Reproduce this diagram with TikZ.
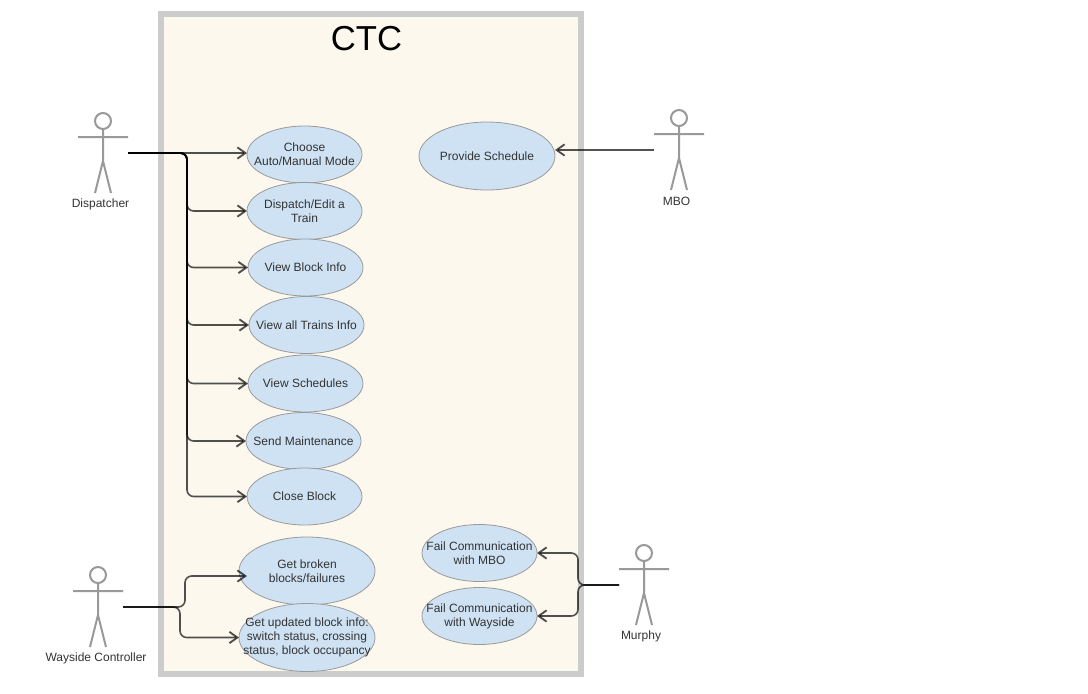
\documentclass[tikz,border=0pt]{standalone}
\usepackage{fontspec}
\setmainfont{Liberation Sans}
\usetikzlibrary{shapes.geometric,arrows.meta}
\definecolor{ctcfill}{HTML}{FCF8EE}
\definecolor{ctcedge}{HTML}{CCCCCC}
\definecolor{casefill}{HTML}{CFE2F3}
\definecolor{caseedge}{HTML}{999999}
\definecolor{txtcol}{HTML}{333333}
\tikzset{
  usecase/.style={draw=caseedge,fill=casefill,ellipse,line width=0.6pt,inner xsep=-13pt,inner ysep=-2pt,outer sep=0pt,
    minimum width=86.25pt,minimum height=42.75pt,align=center,text=txtcol,font=\fontsize{9}{10.5}\selectfont},
  bigcase/.style={usecase,minimum width=102pt,minimum height=51pt},
  actorname/.style={text=txtcol,inner sep=0pt,font=\fontsize{9}{10.5}\selectfont},
  link/.style={draw=black,draw opacity=0.68,line width=1.2pt,rounded corners=5pt,-{Straight Barb[length=6pt,width=8.5pt,line width=1.4pt]}},
  actor/.pic={
    \draw[draw=caseedge,line width=1.5pt] (0,-16) circle (8);
    \draw[draw=caseedge,line width=1.5pt] (0,-8) -- (0,24) (-25,0) -- (25,0) (-8,56) -- (0,24) -- (8,56);
  }
}
\begin{document}
\begin{tikzpicture}[x=0.75pt,y=-0.75pt]
        \useasboundingbox (0,0) rectangle (1088,693);

        % System box
        \fill[ctcfill] (161,14) rectangle (581,674);
        \draw[ctcedge,line width=4.5pt] (161,14) rectangle (581,674);
        \node[inner sep=0pt,font=\fontsize{26}{28}\selectfont] (title) at (366.5,39) {CTC};

        % Actors
        \pic at (103,137) {actor};
        \pic at (679,134) {actor};
        \pic at (98,591) {actor};
        \pic at (644,569) {actor};

        \node[actorname] (dispatcher) at (100.5,204) {Dispatcher};
        \node[actorname] (mbo) at (676.5,201) {MBO};
        \node[actorname] (wayside) at (96,658.5) {Wayside Controller};
        \node[actorname] (murphy) at (641,636.5) {Murphy};

        % Where the connectors leave the actors
        \coordinate (dispatcherout) at (128,153);
        \coordinate (mboout) at (654,150);
        \coordinate (waysideout) at (123,607);
        \coordinate (murphyout) at (619,585);

        % Use cases
        \node[usecase] (choose) at (304.5,154.5) {Choose\\Auto/Manual Mode};
        \node[usecase] (dispatch) at (304.5,211) {Dispatch/Edit a\\Train};
        \node[usecase] (viewblock) at (305.5,267.5) {View Block Info};
        \node[usecase] (viewtrains) at (306.5,325) {View all Trains Info};
        \node[usecase] (viewsched) at (305.5,383.5) {View Schedules};
        \node[usecase] (maint) at (303.5,441) {Send Maintenance};
        \node[usecase] (closeblock) at (304.5,496.5) {Close Block};
        \node[bigcase] (broken) at (307,571) {Get broken\\blocks/failures};
        \node[bigcase] (updated) at (307,637.5) {Get updated block info:\\switch status, crossing\\status, block occupancy};
        \node[bigcase] (provide) at (487,156) {Provide Schedule};
        \node[usecase] (failmbo) at (479.5,553) {Fail Communication\\with MBO};
        \node[usecase] (failway) at (479.5,616) {Fail Communication\\with Wayside};

        % Dispatcher links share one trunk
        \coordinate (trunk) at (187,153);
        \draw[link] (dispatcherout) -- (choose.west |- dispatcherout);
        \foreach \target in {dispatch,viewblock,viewtrains,viewsched,maint,closeblock}
          \draw[link] (dispatcherout) -- (trunk) |- (\target.west);

        % Wayside links
        \coordinate (brokenin) at (247,576);
        \coordinate (waysideup) at (185,607);
        \coordinate (waysidedown) at (180,607);
        \draw[link] (waysideout) -- (waysideup) |- (brokenin);
        \draw[link] (waysideout) -- (waysidedown) |- (updated.west);

        % MBO and Murphy
        \draw[link] (mboout) -- (provide.east |- mboout);
        \coordinate (murphyjoin) at (578,585);
        \draw[link] (murphyout) -- (murphyjoin) |- (failmbo.east);
        \draw[link] (murphyout) -- (murphyjoin) |- (failway.east);
    \end{tikzpicture}
\end{document}
